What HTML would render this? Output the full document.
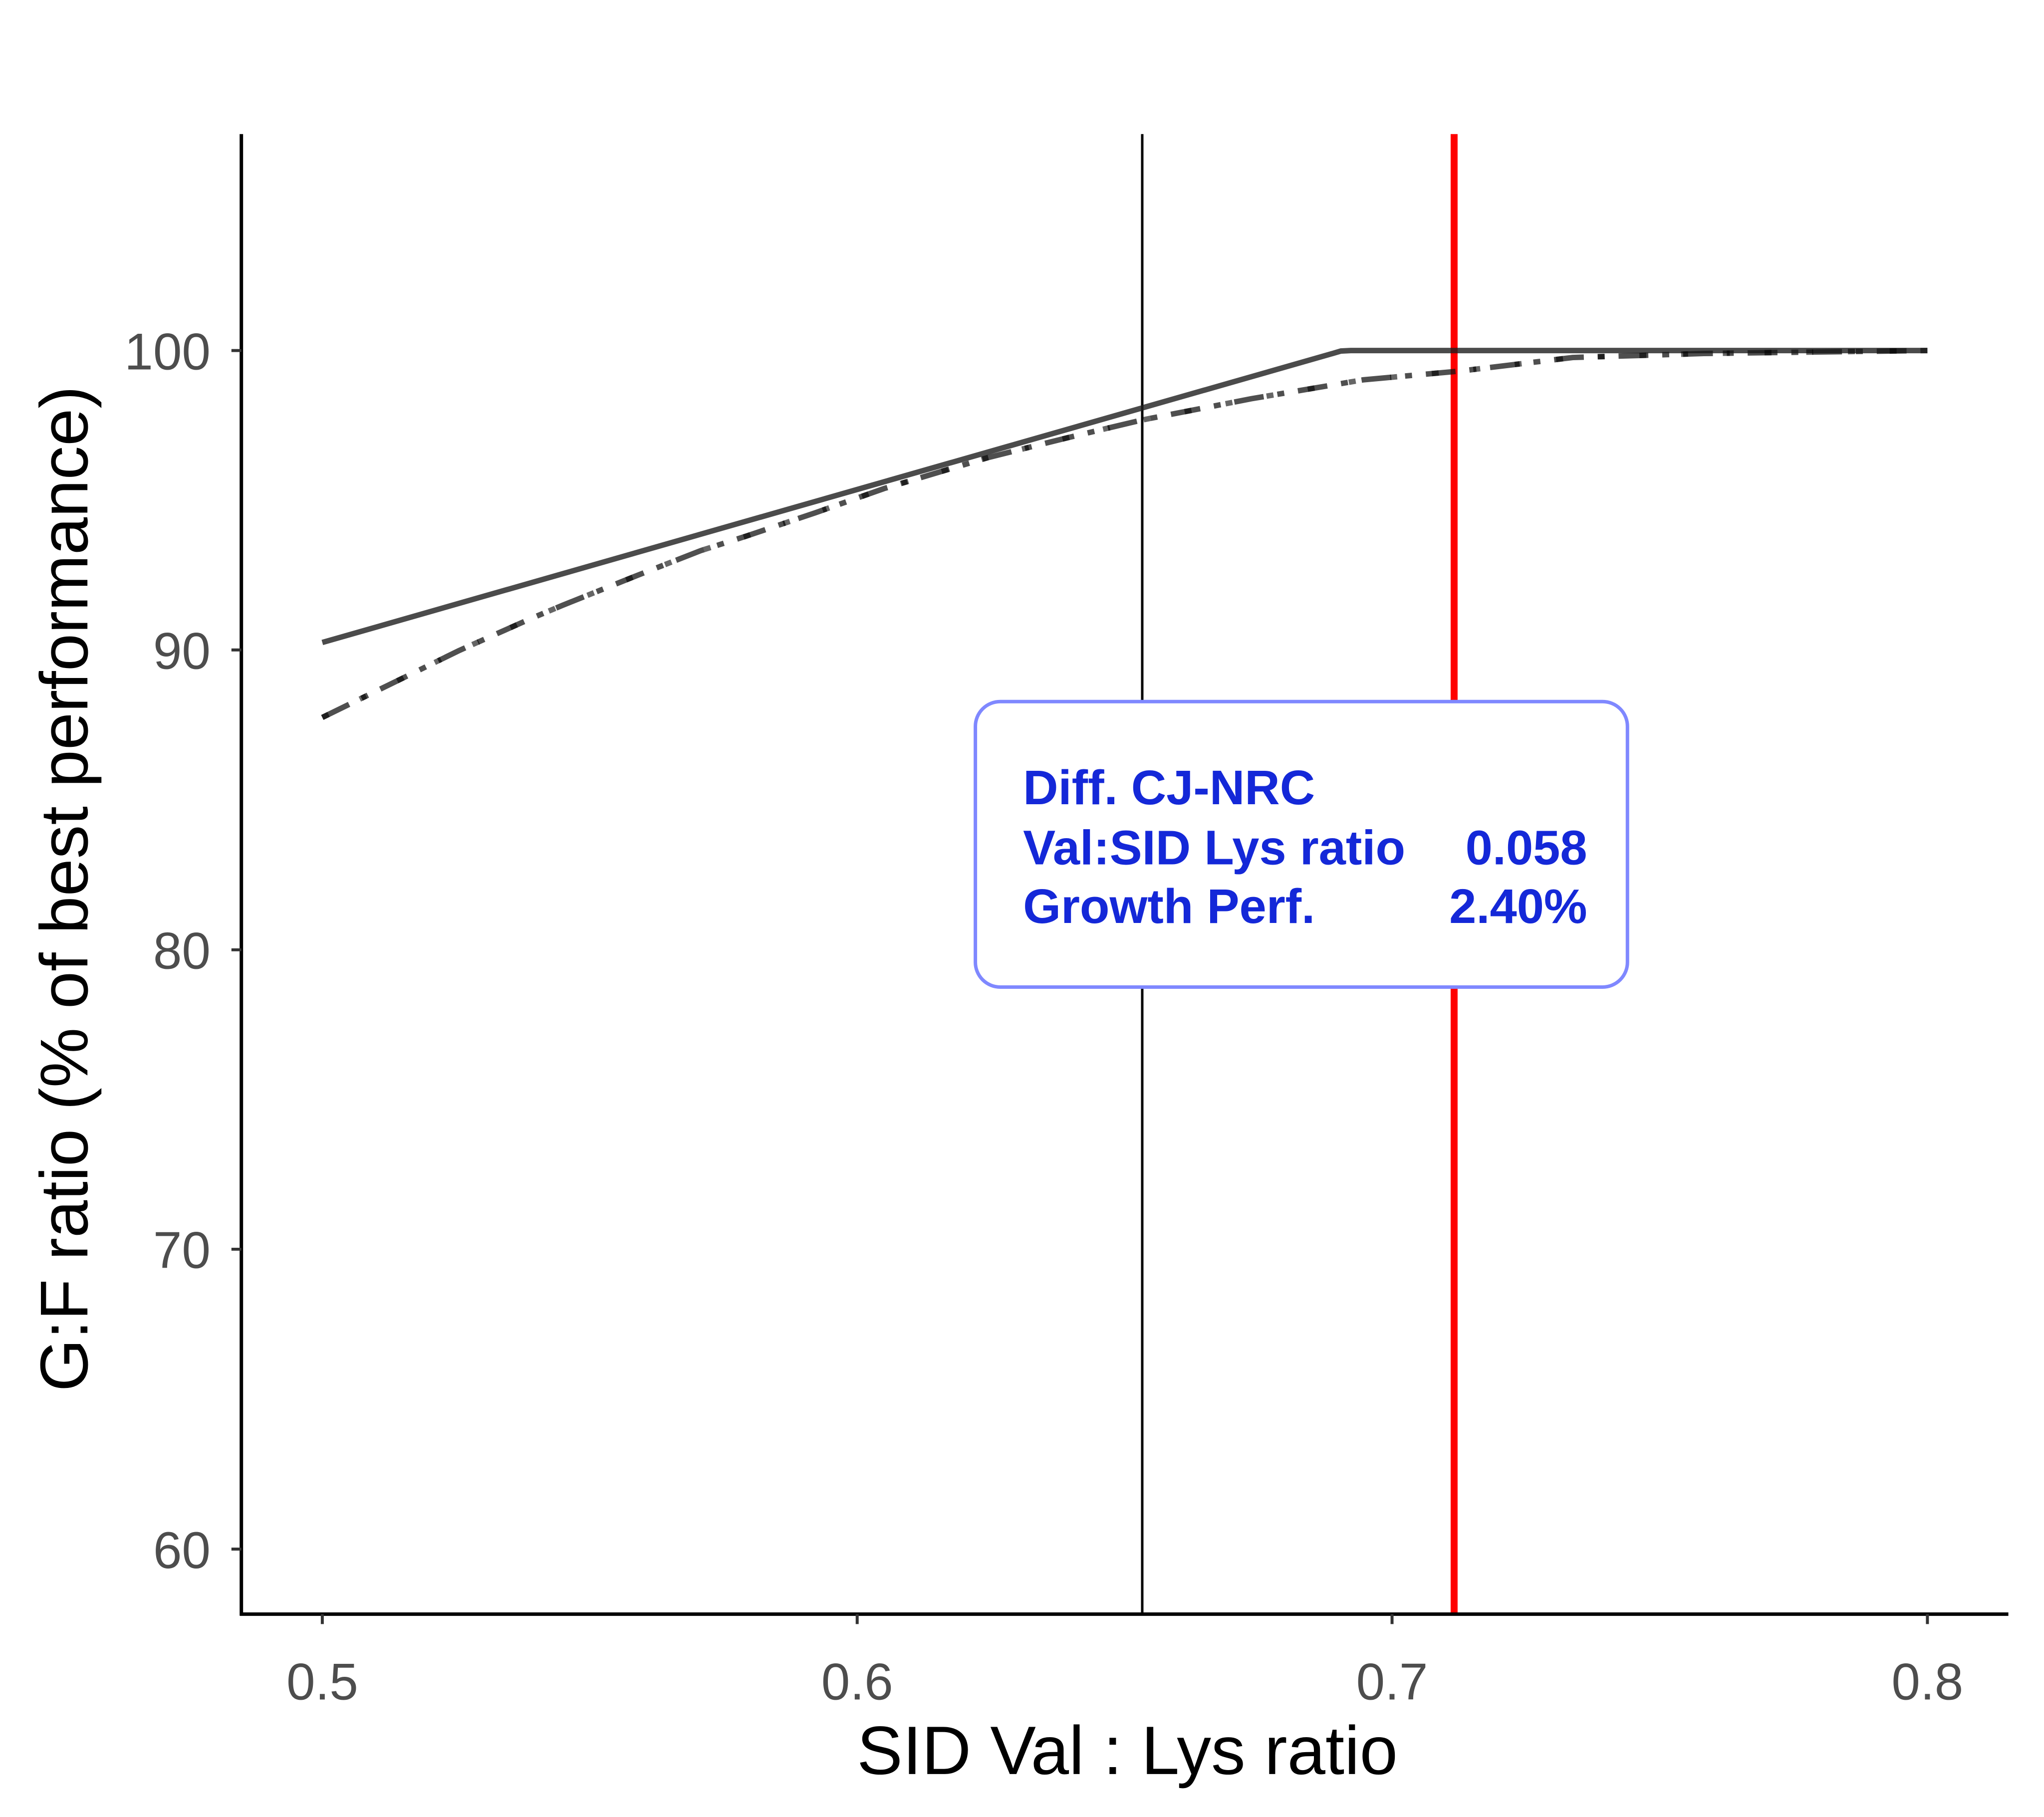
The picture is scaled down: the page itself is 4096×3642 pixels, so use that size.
<!DOCTYPE html>
<html><head><meta charset="utf-8"><style>
html,body{margin:0;padding:0;background:#fff}
svg{display:block}
</style></head><body>
<svg width="4096" height="3642" viewBox="0 0 4096 3642" xmlns="http://www.w3.org/2000/svg">
<rect width="4096" height="3642" fill="#fff"/>
<g transform="scale(0.9952)">
<line x1="2300" y1="270" x2="2300" y2="3251" stroke="#000" stroke-width="5"/>
<line x1="2928" y1="270" x2="2928" y2="3251" stroke="#ff0000" stroke-width="14"/>
<polyline points="649,1294 2683,712 2700,707 2720,706 3881,706" fill="none" stroke="rgba(30,30,30,0.8)" stroke-width="11"/>
<polyline points="649,1445 925,1310 1064,1248 1133,1219 1283,1159 1411,1109 1502,1080 1641,1033 1780,984 1988,922 2148,882 2299,846 2520,803 2745,765 2943,747 3167,720 3431,712 3881,706" fill="none" stroke="rgba(20,20,20,0.75)" stroke-width="11" stroke-linejoin="round" stroke-dasharray="60 28 14 28"/>
<polyline points="649,1445 925,1310 1064,1248 1133,1219 1283,1159 1411,1109 1502,1080 1641,1033 1780,984 1988,922 2148,882 2299,846 2520,803 2745,765 2943,747 3167,720 3431,712 3881,706" fill="none" stroke="rgba(0,0,0,0.6)" stroke-width="11" stroke-linejoin="round" stroke-dasharray="14 70"/>
<line x1="486" y1="270" x2="486" y2="3254" stroke="#000" stroke-width="7"/>
<line x1="483" y1="3251" x2="4044" y2="3251" stroke="#000" stroke-width="7"/>
<g stroke="#333" stroke-width="6">
<line x1="466" y1="706" x2="486" y2="706"/>
<line x1="466" y1="1309" x2="486" y2="1309"/>
<line x1="466" y1="1913" x2="486" y2="1913"/>
<line x1="466" y1="2516" x2="486" y2="2516"/>
<line x1="466" y1="3120" x2="486" y2="3120"/>
<line x1="649" y1="3251" x2="649" y2="3271"/>
<line x1="1726" y1="3251" x2="1726" y2="3271"/>
<line x1="2803" y1="3251" x2="2803" y2="3271"/>
<line x1="3881" y1="3251" x2="3881" y2="3271"/>
</g>
<g font-family="Liberation Sans, sans-serif" font-size="104" fill="#4d4d4d">
<g text-anchor="end">
<text x="424" y="744">100</text>
<text x="424" y="1347">90</text>
<text x="424" y="1951">80</text>
<text x="424" y="2554">70</text>
<text x="424" y="3158">60</text>
</g>
<g text-anchor="middle">
<text x="649" y="3423">0.5</text>
<text x="1726" y="3423">0.6</text>
<text x="2803" y="3423">0.7</text>
<text x="3881" y="3423">0.8</text>
</g>
</g>
<text x="2270" y="3573" font-family="Liberation Sans, sans-serif" font-size="138" text-anchor="middle" fill="#000">SID Val : Lys ratio</text>
<text transform="translate(176,1790) rotate(-90)" font-family="Liberation Sans, sans-serif" font-size="136" text-anchor="middle" fill="#000">G:F ratio (% of best performance)</text>
<rect x="1964" y="1413" width="1313" height="575" rx="50" ry="50" fill="#fff" stroke="#7f88ff" stroke-width="7"/>
<g font-family="Liberation Sans, sans-serif" font-size="98" font-weight="bold" fill="#1428d8">
<text x="2060" y="1620">Diff. CJ-NRC</text>
<text x="2060" y="1741">Val:SID Lys ratio</text>
<text x="2060" y="1859">Growth Perf.</text>
<text x="3196" y="1741" text-anchor="end">0.058</text>
<text x="3196" y="1859" text-anchor="end">2.40%</text>
</g>
</g>
</svg>
</body></html>
